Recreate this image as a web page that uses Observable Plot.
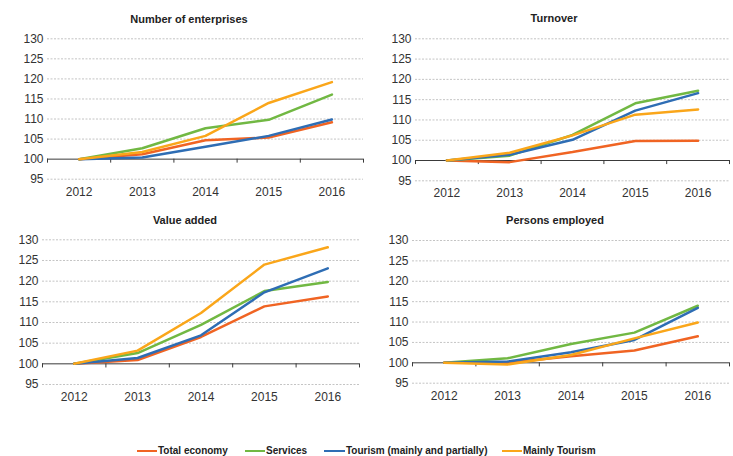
<!DOCTYPE html>
<html>
<head>
<meta charset="utf-8">
<script src="https://cdn.jsdelivr.net/npm/d3@7"></script>
<script src="https://cdn.jsdelivr.net/npm/@observablehq/plot@0.6"></script>
<style>
  html, body { margin: 0; padding: 0; background: #fff; }
  #root { position: relative; width: 733px; height: 456px; overflow: hidden; font-family: "Liberation Sans", Arial, sans-serif; color: #333; }
  .panel { position: absolute; }
  .title { position: absolute; width: 300px; text-align: center; font-weight: bold; font-size: 11px; line-height: 14px; color: #222; }
  .leg { position: absolute; font-weight: bold; font-size: 10px; line-height: 12px; color: #222; white-space: nowrap; }
  .legline { position: absolute; height: 2px; }
</style>
</head>
<body>
<div id="root"></div>
<script>
const years = [2012, 2013, 2014, 2015, 2016];
const seriesNames = ["Total economy", "Services", "Tourism (mainly and partially)", "Mainly Tourism"];
const seriesColors = ["#F06423", "#71B843", "#2E6DB4", "#FAA61A"];
const yTicks = [95, 100, 105, 110, 115, 120, 125, 130];
const panelTitles = ["Number of enterprises", "Turnover", "Value added", "Persons employed"];

// Number of enterprises
const enterprisesTotal    = [100, 101.2, 104.7, 105.4, 109.2];
const enterprisesServices = [100, 102.7, 107.7, 109.8, 116.1];
const enterprisesTourism  = [100, 100.4, 103.1, 105.8, 109.9];
const enterprisesMainly   = [100, 101.8, 105.8, 114.0, 119.2];

// Turnover
const turnoverTotal    = [100, 99.6, 102.1, 104.8, 104.9];
const turnoverServices = [100, 101.2, 106.3, 114.1, 117.2];
const turnoverTourism  = [100, 101.4, 105.1, 112.3, 116.6];
const turnoverMainly   = [100, 101.9, 106.2, 111.3, 112.6];

// Value added
const valueTotal    = [100, 100.9, 106.5, 113.9, 116.3];
const valueServices = [100, 102.6, 109.4, 117.6, 119.8];
const valueTourism  = [100, 101.4, 106.9, 117.3, 123.1];
const valueMainly   = [100, 103.2, 112.3, 124.0, 128.2];

// Persons employed
const personsTotal    = [100, 100.0, 101.6, 103.0, 106.5];
const personsServices = [100, 101.1, 104.6, 107.4, 114.0];
const personsTourism  = [100, 100.3, 102.6, 105.6, 113.5];
const personsMainly   = [100, 99.6, 101.9, 106.0, 109.9];

const panelSeries = [
  [enterprisesTotal, enterprisesServices, enterprisesTourism, enterprisesMainly],
  [turnoverTotal, turnoverServices, turnoverTourism, turnoverMainly],
  [valueTotal, valueServices, valueTourism, valueMainly],
  [personsTotal, personsServices, personsTourism, personsMainly]
];

// layout (positions only)
const layout = [
  {left: 0,   top: 28,  width: 366, height: 180, mt: 10.3, mb: 29.3, ml: 47, mr: 3, tx: 189, ty: 19},
  {left: 366, top: 28,  width: 367, height: 180, mt: 10.3, mb: 27.7, ml: 49, mr: 4, tx: 554, ty: 18},
  {left: 0,   top: 228, width: 366, height: 180, mt: 11.3, mb: 24,   ml: 42, mr: 7, tx: 185, ty: 220},
  {left: 366, top: 228, width: 367, height: 180, mt: 12,   mb: 25.3, ml: 46, mr: 4, tx: 555, ty: 220}
];

const root = document.getElementById("root");
const bounds = years.map(y => y - 0.5).concat([years[years.length - 1] + 0.5]);

panelSeries.forEach((series, p) => {
  const L = layout[p];
  const rows = [];
  series.forEach((vals, s) => vals.forEach((v, i) => rows.push({series: seriesNames[s], year: years[i], value: v})));
  const chart = Plot.plot({
    width: L.width, height: L.height,
    marginLeft: L.ml, marginRight: L.mr, marginTop: L.mt, marginBottom: L.mb,
    x: {domain: [bounds[0], bounds[bounds.length - 1]], axis: null},
    y: {domain: [yTicks[0], yTicks[yTicks.length - 1]], axis: null},
    color: {domain: seriesNames, range: seriesColors},
    style: {fontFamily: '"Liberation Sans", Arial, sans-serif', fontSize: "12px", color: "#333", background: "transparent", overflow: "visible"},
    marks: [
      Plot.ruleY(yTicks.filter(d => d !== 100), {stroke: "#c4c4c4", strokeDasharray: "2,1.5"}),
      Plot.ruleY([100], {stroke: "#3a3a3a"}),
      Plot.ruleX(bounds, {x: d => d, y1: 100, y2: 99, stroke: "#3a3a3a"}),
      Plot.axisY({ticks: yTicks, tickSize: 0, tickPadding: 4, fontSize: 12, label: null, tickFormat: d => String(d)}),
      Plot.axisX({ticks: years, tickSize: 0, tickPadding: 8, fontSize: 12, label: null, tickFormat: d => String(d)}),
      Plot.line(rows, {x: "year", y: "value", z: "series", stroke: "series", strokeWidth: 2.5, strokeLinejoin: "miter"})
    ]
  });
  chart.classList.add("panel");
  chart.style.left = L.left + "px";
  chart.style.top = L.top + "px";
  root.appendChild(chart);

  const t = document.createElement("div");
  t.className = "title";
  t.textContent = panelTitles[p];
  t.style.left = (L.tx - 150) + "px";
  t.style.top = (L.ty - 7) + "px";
  root.appendChild(t);
});

// legend
const legPos = [{lx: 137, tx: 158}, {lx: 245, tx: 266}, {lx: 324, tx: 346}, {lx: 502, tx: 523}];
seriesNames.forEach((name, i) => {
  const ln = document.createElement("div");
  ln.className = "legline";
  ln.style.left = legPos[i].lx + "px";
  ln.style.width = (legPos[i].tx - legPos[i].lx - 1) + "px";
  ln.style.top = "450px";
  ln.style.background = seriesColors[i];
  root.appendChild(ln);
  const tx = document.createElement("div");
  tx.className = "leg";
  tx.textContent = name;
  tx.style.left = legPos[i].tx + "px";
  tx.style.top = "445px";
  root.appendChild(tx);
});
</script>
</body>
</html>
